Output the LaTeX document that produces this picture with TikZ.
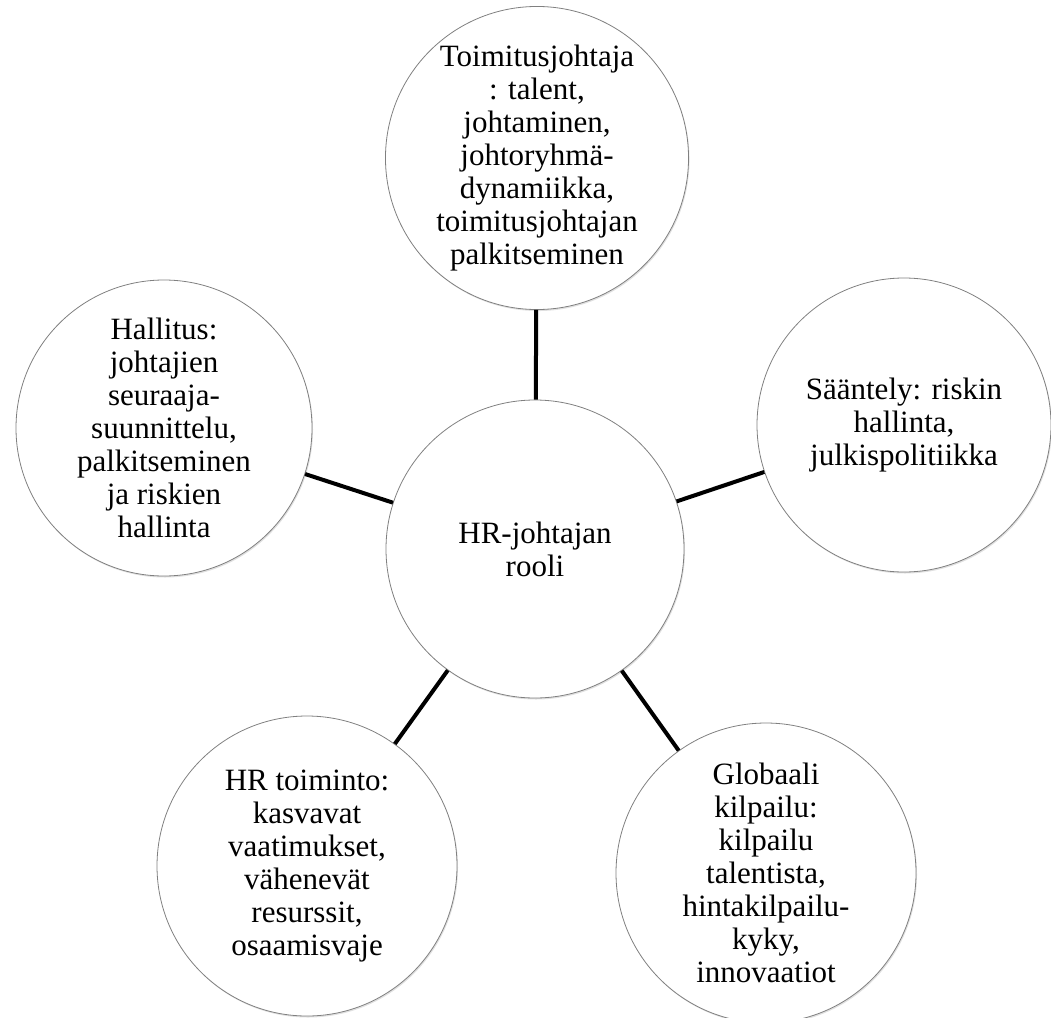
\documentclass[tikz,border=0pt]{standalone}
\usepackage{fontspec}
\setmainfont{Liberation Serif}
\usetikzlibrary{shadows}
\begin{document}
\begin{tikzpicture}[x=1pt,y=-1pt,
  bubble/.style={circle, draw=black!50, line width=0.8pt, fill=white,
    minimum size=#1, inner sep=0pt, align=center,
    font=\fontsize{31}{33}\selectfont,
    drop shadow={shadow xshift=1pt, shadow yshift=-1.5pt, opacity=0.12, fill=black}},
  bubble/.default=298pt,
  link/.style={line width=4pt, black}]
\useasboundingbox (0,0) rectangle (1051,1017);
\node[bubble] (c) at (535,549) {HR-johtajan\\rooli};
\node[bubble] (t) at (537,158) {Toimitusjohtaja\\: talent,\\johtaminen,\\johtoryhmä-\\dynamiikka,\\toimitusjohtajan\\palkitseminen};
\node[bubble=294pt] (r) at (904,425) {Sääntely: riskin\\hallinta,\\julkispolitiikka};
\node[bubble=296pt] (l) at (164,428) {Hallitus:\\johtajien\\seuraaja-\\suunnittelu,\\palkitseminen\\ja riskien\\hallinta};
\node[bubble=300pt] (bl) at (307,866) {HR toiminto:\\kasvavat\\vaatimukset,\\vähenevät\\resurssit,\\osaamisvaje};
\node[bubble=300pt] (br) at (766,873) {Globaali\\kilpailu:\\kilpailu\\talentista,\\hintakilpailu-\\kyky,\\innovaatiot};
\draw[link] (c) -- (t);
\draw[link] (c) -- (r);
\draw[link] (c) -- (l);
\draw[link] (c) -- (bl);
\draw[link] (c) -- (br);
\end{tikzpicture}
\end{document}
